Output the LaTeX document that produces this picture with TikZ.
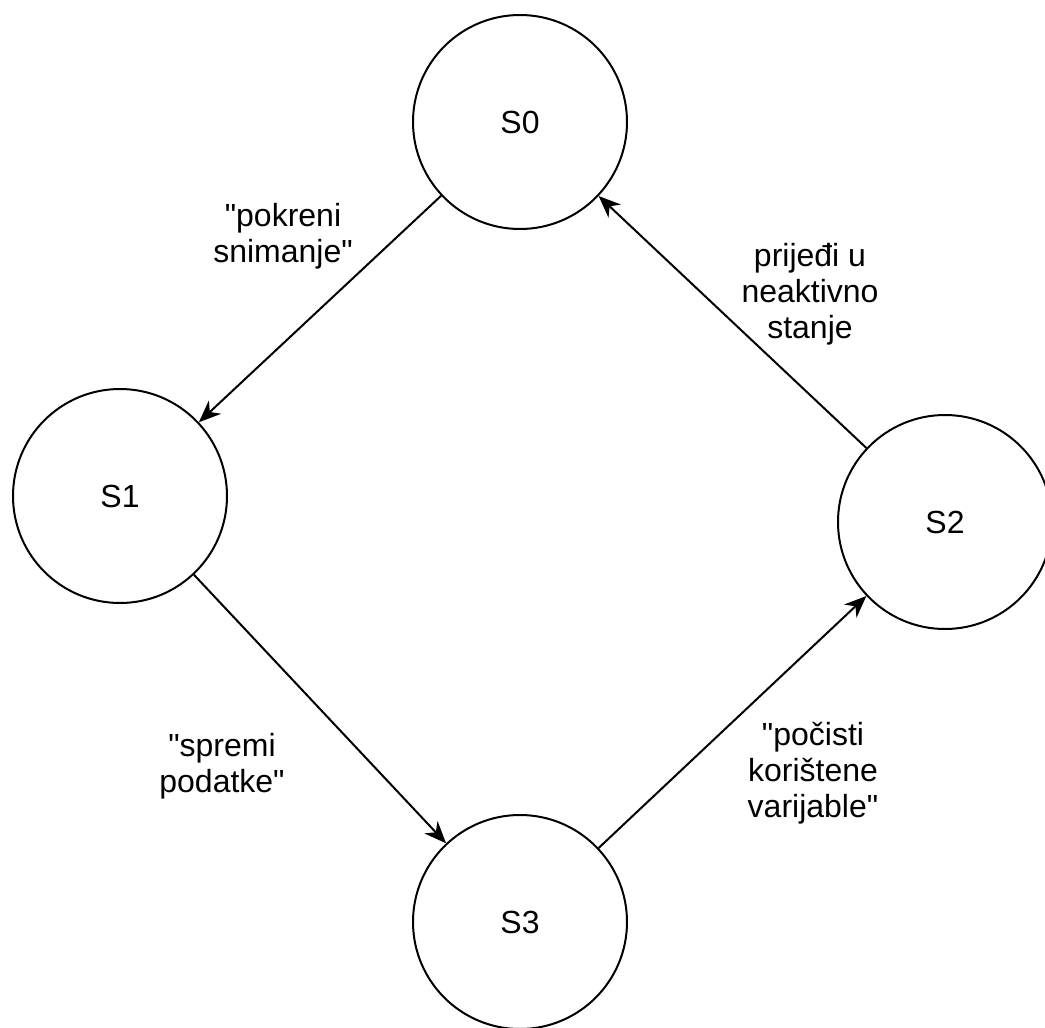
\documentclass[tikz,border=0pt]{standalone}
\usepackage{fontspec}
\setmainfont{Liberation Sans}
\usetikzlibrary{arrows.meta}
\begin{document}
\begin{tikzpicture}[x=1pt,y=-1pt,
  state/.style={draw, circle, line width=2pt, minimum size=214pt, inner sep=0pt, font=\fontsize{32}{36}\selectfont},
  trans/.style={line width=2pt, -{Stealth[length=22pt,width=18pt,inset=7pt]}},
  lbl/.style={align=center, font=\fontsize{32}{36}\selectfont, inner sep=0pt}]
\useasboundingbox (0,0) rectangle (1045,1028);
\node[state] (s0) at (520,122) {S0};
\node[state] (s1) at (120,496) {S1};
\node[state] (s2) at (945,522) {S2};
\node[state] (s3) at (520,922) {S3};
\draw[trans] (s0) -- (s1);
\draw[trans] (s1) -- (s3);
\draw[trans] (s3) -- (s2);
\draw[trans] (s2) -- (s0);
\node[lbl] (l0) at (283,236) {\textquotedbl pokreni\\snimanje\textquotedbl};
\node[lbl] (l1) at (810,294) {prijeđi u\\neaktivno\\stanje};
\node[lbl] (l2) at (222,766) {\textquotedbl spremi\\podatke\textquotedbl};
\node[lbl] (l3) at (813,773) {\textquotedbl počisti\\korištene\\varijable\textquotedbl};
\end{tikzpicture}
\end{document}
